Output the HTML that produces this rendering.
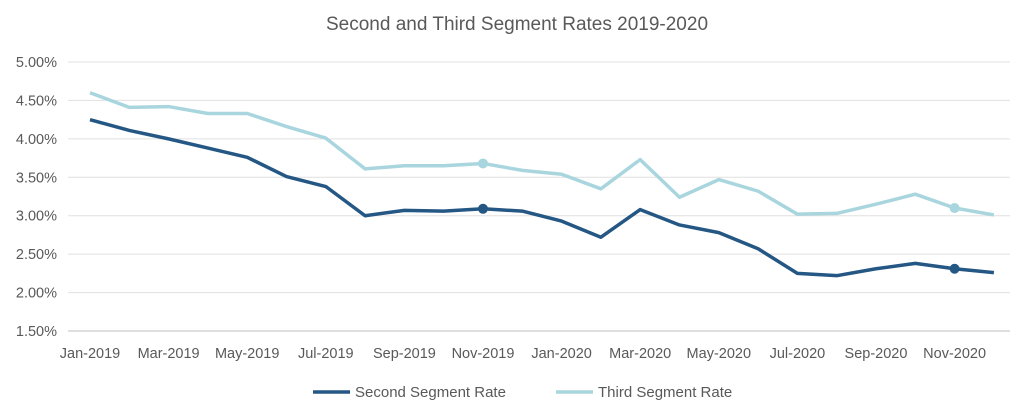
<!DOCTYPE html>
<html><head><meta charset="utf-8"><style>
body{margin:0;background:#fff;font-family:"Liberation Sans",sans-serif;}
svg text{font-family:"Liberation Sans",sans-serif;fill:#595959;}
</style></head><body>
<svg width="1024" height="415">
<text x="517" y="30" text-anchor="middle" font-size="19">Second and Third Segment Rates 2019-2020</text>
<g id="grid"></g><g id="yt"></g><g id="xt"></g><g id="series"></g>
<g>
<line x1="313" y1="392" x2="350" y2="392" stroke="#255785" stroke-width="3.5"/>
<text x="355" y="397" font-size="15">Second Segment Rate</text>
<line x1="556" y1="392" x2="593" y2="392" stroke="#a9d6de" stroke-width="3.5"/>
<text x="598" y="397" font-size="15">Third Segment Rate</text>
</g>
</svg>
<script>
const months=["Jan-2019","Feb-2019","Mar-2019","Apr-2019","May-2019","Jun-2019","Jul-2019","Aug-2019","Sep-2019","Oct-2019","Nov-2019","Dec-2019","Jan-2020","Feb-2020","Mar-2020","Apr-2020","May-2020","Jun-2020","Jul-2020","Aug-2020","Sep-2020","Oct-2020","Nov-2020","Dec-2020"];
const second=[4.25,4.11,4.00,3.88,3.76,3.51,3.38,3.00,3.07,3.06,3.09,3.06,2.93,2.72,3.08,2.88,2.78,2.57,2.25,2.22,2.31,2.38,2.31,2.26];
const third=[4.60,4.41,4.42,4.33,4.33,4.16,4.01,3.61,3.65,3.65,3.68,3.59,3.54,3.35,3.73,3.24,3.47,3.32,3.02,3.03,3.15,3.28,3.10,3.01];
const yTicks=[1.5,2.0,2.5,3.0,3.5,4.0,4.5,5.0];
const markerIdx=[10,22];
const NS="http://www.w3.org/2000/svg";
const X=i=>90+i*39.3, Y=v=>62+(5-v)/0.5*38.43;
function mk(t,a,p){const e=document.createElementNS(NS,t);for(const k in a)e.setAttribute(k,a[k]);p.appendChild(e);return e;}
const grid=document.getElementById('grid'),yt=document.getElementById('yt'),xt=document.getElementById('xt'),sg=document.getElementById('series');
yTicks.forEach(v=>{
 const l=mk('line',{x1:68,x2:1010,y1:Y(v),y2:Y(v),stroke:v===1.5?'#bfbfbf':'#e0e0e0','stroke-width':1},grid);
 
 
 const t=mk('text',{x:57,y:Y(v)+5,'text-anchor':'end','font-size':14.5},yt);t.textContent=v.toFixed(2)+'%';
 
 
});
months.forEach((m,i)=>{if(i%2)return;
 const t=mk('text',{x:X(i),y:358,'text-anchor':'middle','font-size':14.5},xt);t.textContent=m;
 
 
});
[[third,'#a9d6de','third-segment-line'],[second,'#255785','second-segment-line']].forEach(([d,c,n])=>{
 const p=mk('polyline',{points:d.map((v,i)=>X(i)+','+Y(v)).join(' '),fill:'none',stroke:c,'stroke-width':3.5,'stroke-linejoin':'round'},sg);
 
 
 markerIdx.forEach(i=>{const ci=mk('circle',{cx:X(i),cy:Y(d[i]),r:5,fill:c},sg);
 
 });
});
</script>
</body></html>
